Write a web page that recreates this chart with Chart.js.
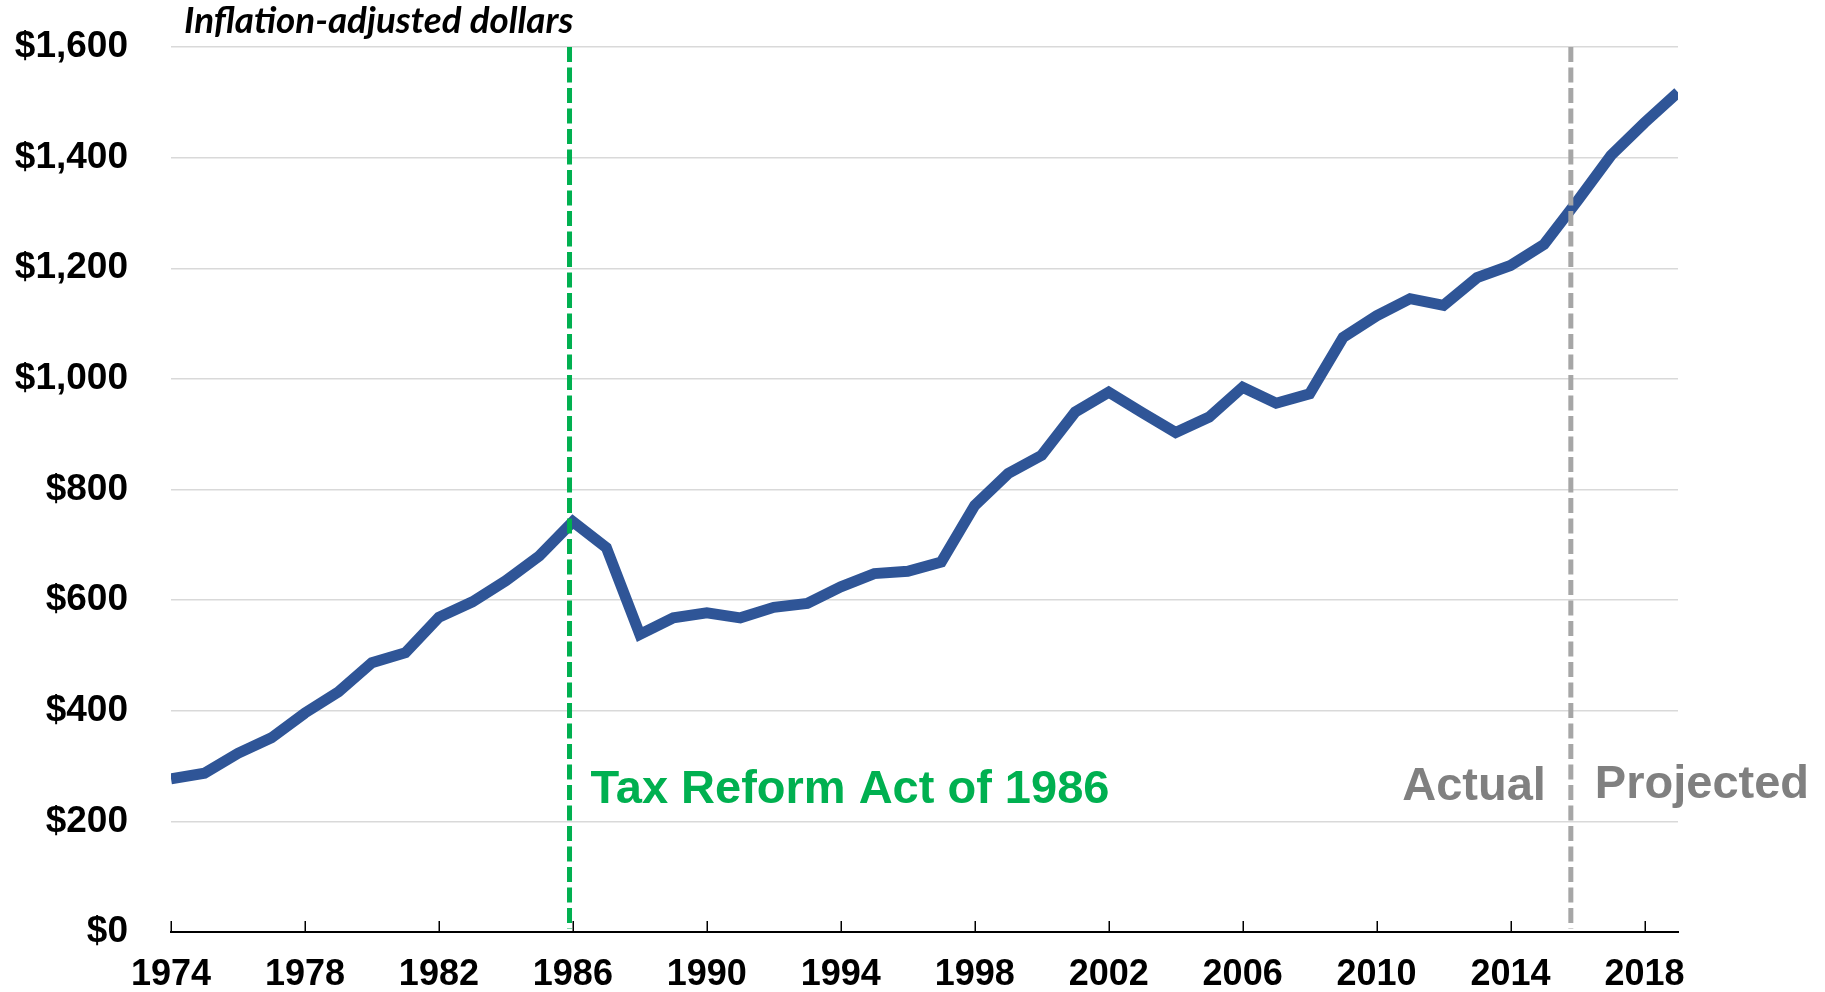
<!DOCTYPE html>
<html>
<head>
<meta charset="utf-8">
<script src="https://cdn.jsdelivr.net/npm/chart.js@4.4.1/dist/chart.umd.min.js"></script>
<style>
  html, body { margin: 0; padding: 0; background: #fff; }
  #wrap { width: 1825px; height: 992px; position: relative; }
</style>
</head>
<body>
<div id="wrap"><canvas id="c"></canvas></div>
<script>
// ---- data ----
const years = [1974,1975,1976,1977,1978,1979,1980,1981,1982,1983,1984,1985,1986,1987,1988,1989,1990,1991,1992,1993,1994,1995,1996,1997,1998,1999,2000,2001,2002,2003,2004,2005,2006,2007,2008,2009,2010,2011,2012,2013,2014,2015,2016,2017,2018,2019];
const values = [277,287,323,351,396,434,487,505,569,597,635,680,742,695,538,568,577,568,587,594,624,648,652,669,771,829,862,940,976,939,903,931,985,956,973,1075,1114,1145,1133,1183,1205,1243,1322,1404,1463,1518];
const xTickYears = [1974,1978,1982,1986,1990,1994,1998,2002,2006,2010,2014,2018];
const yTickValues = [0,200,400,600,800,1000,1200,1400,1600];
const reformYear = 1985.9;
const projectionStartYear = 2015.8;
const unitLabel = 'Inflation-adjusted dollars';
const reformLabel = 'Tax Reform Act of 1986';
const actualLabel = 'Actual';
const projectedLabel = 'Projected';

const FONT = "'Liberation Sans', Arial, Helvetica, sans-serif";

const overlay = {
  id: 'overlay',
  afterDatasetsDraw(chart) {
    const {ctx, chartArea: a, scales: {x}} = chart;
    ctx.save();
    const lines = [[reformYear, '#00B050'], [projectionStartYear, '#A6A6A6']];
    lines.forEach(([yr, col]) => {
      const px = x.getPixelForValue(yr);
      ctx.beginPath();
      ctx.setLineDash([15, 5.5]);
      ctx.lineWidth = 5;
      ctx.strokeStyle = col;
      ctx.moveTo(px, a.top);
      ctx.lineTo(px, a.bottom - 3);
      ctx.stroke();
    });
    ctx.restore();
  },
  afterDraw(chart) {
    const {ctx, chartArea: a, scales: {x}} = chart;
    ctx.save();
    // inward tick marks
    ctx.strokeStyle = '#000';
    ctx.lineWidth = 1.5;
    x.ticks.forEach(t => {
      const px = Math.round(x.getPixelForValue(t.value)) + 0.25;
      ctx.beginPath();
      ctx.moveTo(px, a.bottom);
      ctx.lineTo(px, a.bottom - 11);
      ctx.stroke();
    });
    // unit label
    ctx.fillStyle = '#000';
    ctx.textBaseline = 'alphabetic';
    ctx.textAlign = 'left';
    ctx.font = "italic bold 100px Lato, 'Open Sans', sans-serif";
    const w100 = ctx.measureText(unitLabel).width;
    const fs = 100 * 389 / w100;
    ctx.font = `italic bold ${fs.toFixed(1)}px Lato, 'Open Sans', sans-serif`;
    ctx.fillText(unitLabel, a.left + 13, 32.5);

    const gx = x.getPixelForValue(reformYear);
    const px2 = x.getPixelForValue(projectionStartYear);
    ctx.font = `bold 47px ${FONT}`;
    ctx.fillStyle = '#00B050';
    ctx.fillText(reformLabel, gx + 21, a.bottom - 129);

    ctx.fillStyle = '#808080';
    ctx.textAlign = 'right';
    ctx.fillText(actualLabel, px2 - 25, a.bottom - 132);
    ctx.textAlign = 'left';
    ctx.fillText(projectedLabel, px2 + 24, a.bottom - 134);
    ctx.restore();
  }
};

new Chart(document.getElementById('c'), {
  type: 'line',
  data: {
    datasets: [{
      data: years.map((yr, i) => ({x: yr, y: values[i]})),
      borderColor: '#2F5597',
      borderWidth: 11,
      borderJoinStyle: 'miter',
      borderCapStyle: 'butt',
      pointRadius: 0,
      tension: 0,
      fill: false,
      clip: 0
    }]
  },
  options: {
    responsive: true,
    maintainAspectRatio: false,
    animation: false,
    events: [],
    layout: { padding: { top: 47, right: 147, bottom: 0, left: 0 } },
    plugins: { legend: { display: false }, tooltip: { enabled: false } },
    scales: {
      x: {
        type: 'linear',
        min: years[0],
        max: years[years.length - 1],
        afterBuildTicks: s => { s.ticks = xTickYears.map(v => ({value: v})); },
        afterFit: s => { s.height = 60; s.paddingLeft = 0; s.paddingRight = 0; s.paddingTop = 0; s.paddingBottom = 0; },
        grid: { display: true, drawOnChartArea: false, drawTicks: false },
        border: { display: true, color: '#000', width: 2 },
        ticks: {
          padding: 21,
          maxRotation: 0,
          autoSkip: false,
          color: '#000',
          font: { family: FONT, size: 36, weight: 'bold' },
          callback: v => String(v)
        }
      },
      y: {
        min: 0,
        max: 1600,
        afterBuildTicks: s => { s.ticks = yTickValues.map(v => ({value: v})); },
        afterFit: s => { s.width = 171; s.paddingTop = 0; s.paddingBottom = 0; s.paddingLeft = 0; s.paddingRight = 0; },
        grid: { color: '#D9D9D9', lineWidth: 1.5, drawTicks: false },
        border: { display: false },
        ticks: {
          padding: 43,
          color: '#000',
          font: { family: FONT, size: 37, weight: 'bold' },
          callback: v => '$' + Number(v).toLocaleString('en-US')
        }
      }
    }
  },
  plugins: [overlay]
});
</script>
</body>
</html>
